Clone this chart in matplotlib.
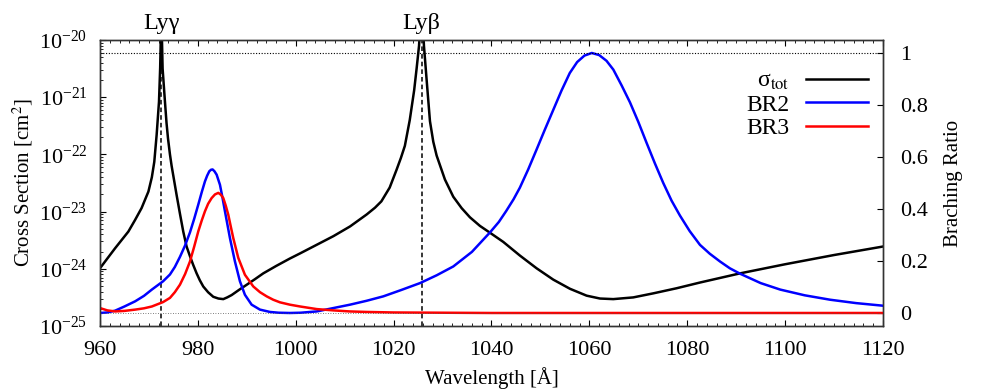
import numpy as np
import matplotlib
matplotlib.use('Agg')
import matplotlib.pyplot as plt
from matplotlib.lines import Line2D
from matplotlib.ticker import MultipleLocator, FormatStrFormatter

plt.rcParams['font.family'] = ['Liberation Serif', 'DejaVu Serif']
plt.rcParams['mathtext.fontset'] = 'stix'

# total cross section (left axis, cm^2)
wl_tot = [960.0, 961.5, 963.1, 965.8, 967.15, 968.5, 969.9, 970.6, 971.1, 971.58,
          972.06, 972.3, 972.54, 972.8, 973.28, 973.6, 973.9, 974.3, 974.64, 975.0,
          975.66, 976.35, 977.02, 977.7, 978.39, 979.05, 979.75, 980.4, 981.11, 982.1,
          983.15, 984.2, 985.2, 986.0, 986.9, 988.4, 989.97, 991.7, 993.37, 996.0,
          998.8, 1000.9, 1004.3, 1007.7, 1011.1, 1014.5, 1016.2, 1017.5, 1019.2, 1020.6,
          1021.5, 1022.3, 1023.3, 1024.2, 1024.7, 1025.2, 1025.72, 1026.2, 1026.75, 1027.43,
          1028.11, 1028.79, 1030.49, 1032.19, 1033.9, 1035.6, 1037.64, 1039.69, 1042.41, 1045.82,
          1049.22, 1052.63, 1056.04, 1059.44, 1062.17, 1064.89, 1068.97, 1073.06, 1077.84, 1082.6,
          1090.8, 1100.0, 1110.0, 1120.0]
sigma_tot = [1.02e-24, 1.51e-24, 2.29e-24, 4.47e-24, 7.08e-24, 1.15e-23, 2.24e-23, 3.98e-23, 7.41e-23, 2.19e-22,
             8.32e-22, 3.24e-21, 3.16e-20, 3.16e-21, 8.32e-22, 3.55e-22, 1.91e-22, 1.00e-22, 6.31e-23, 4.17e-23,
             1.95e-23, 9.12e-24, 4.47e-24, 2.45e-24, 1.66e-24, 1.17e-24, 8.32e-25, 6.31e-25, 4.90e-25, 3.89e-25,
             3.24e-25, 3.02e-25, 2.95e-25, 3.16e-25, 3.47e-25, 4.27e-25, 5.25e-25, 6.61e-25, 8.32e-25, 1.12e-24,
             1.51e-24, 1.86e-24, 2.63e-24, 3.72e-24, 5.50e-24, 8.91e-24, 1.17e-23, 1.51e-23, 2.63e-23, 5.37e-23,
             8.71e-23, 1.41e-22, 3.98e-22, 1.32e-21, 3.16e-21, 7.94e-21, 5.00e-20, 7.94e-21, 2.00e-21, 3.80e-22,
             1.66e-22, 9.55e-23, 3.63e-23, 1.82e-23, 1.15e-23, 7.94e-24, 5.62e-24, 4.27e-24, 2.95e-24, 1.70e-24,
             1.02e-24, 6.46e-25, 4.47e-25, 3.39e-25, 3.02e-25, 2.95e-25, 3.16e-25, 3.72e-25, 4.57e-25, 5.75e-25,
             8.32e-25, 1.20e-24, 1.74e-24, 2.45e-24]

# branching ratio BR2 (right axis)
wl_br2 = [960.0, 961.5, 963.1, 965.0, 967.2, 969.0, 970.6, 972.9, 974.3, 975.3,
          976.35, 977.4, 978.39, 979.25, 980.09, 980.8, 981.45, 981.9, 982.34, 982.7,
          983.02, 983.4, 983.84, 984.52, 985.0, 985.54, 986.56, 987.58, 988.6, 989.62,
          990.99, 992.69, 994.74, 996.5, 998.8, 1001.0, 1004.3, 1007.7, 1011.1, 1014.5,
          1017.9, 1021.5, 1025.4, 1028.8, 1032.2, 1036.0, 1039.7, 1041.5, 1043.0, 1044.5,
          1045.8, 1047.5, 1049.2, 1050.9, 1052.6, 1054.3, 1056.0, 1057.5, 1059.0, 1060.5,
          1062.0, 1063.5, 1064.9, 1066.6, 1068.3, 1070.0, 1071.7, 1073.4, 1075.1, 1076.8,
          1078.5, 1080.5, 1082.6, 1084.6, 1086.7, 1088.7, 1090.8, 1095.0, 1099.0, 1104.0,
          1109.2, 1114.5, 1120.0]
br2 = [0.000, 0.002, 0.009, 0.025, 0.045, 0.066, 0.090, 0.122, 0.148, 0.177,
       0.216, 0.260, 0.310, 0.362, 0.417, 0.465, 0.506, 0.528, 0.545, 0.551,
       0.552, 0.545, 0.532, 0.493, 0.447, 0.391, 0.288, 0.198, 0.122, 0.070,
       0.032, 0.013, 0.004, 0.001, 0.000, 0.001, 0.006, 0.019, 0.032, 0.047,
       0.064, 0.088, 0.115, 0.145, 0.179, 0.235, 0.310, 0.350, 0.392, 0.437,
       0.482, 0.552, 0.628, 0.705, 0.780, 0.855, 0.923, 0.965, 0.990, 1.000,
       0.992, 0.970, 0.936, 0.875, 0.810, 0.735, 0.654, 0.575, 0.500, 0.432,
       0.375, 0.315, 0.262, 0.228, 0.198, 0.172, 0.151, 0.115, 0.090, 0.068,
       0.051, 0.038, 0.028]

# branching ratio BR3 (right axis)
wl_br3 = [960.0, 961.5, 963.1, 965.0, 967.2, 969.0, 970.6, 972.9, 974.3, 975.3,
          976.35, 977.4, 978.39, 979.25, 980.09, 980.8, 981.45, 982.1, 982.82, 983.5,
          984.18, 984.7, 985.2, 985.7, 986.22, 986.7, 987.24, 988.26, 989.62, 991.33,
          992.7, 994.06, 995.4, 996.78, 998.8, 1000.9, 1004.3, 1007.7, 1011.0, 1014.5,
          1020.0, 1030.0, 1040.0, 1120.0]
br3 = [0.019, 0.010, 0.006, 0.008, 0.013, 0.018, 0.025, 0.042, 0.058, 0.080,
       0.109, 0.150, 0.198, 0.255, 0.314, 0.356, 0.391, 0.420, 0.442, 0.456,
       0.462, 0.455, 0.442, 0.413, 0.378, 0.335, 0.288, 0.212, 0.147, 0.102,
       0.080, 0.064, 0.051, 0.041, 0.032, 0.025, 0.015, 0.010, 0.006, 0.004,
       0.002, 0.001, 0.000, 0.000]

lines = [972.54, 1025.72]
line_names = ['Ly\u03b3', 'Ly\u03b2']

fig = plt.figure(figsize=(9.81, 3.92), dpi=100)
ax = fig.add_axes([0.1019, 0.1684, 0.7982, 0.7296])
ax2 = ax.twinx()

ax.plot(wl_tot, sigma_tot, color='black', lw=1.8)
ax.set_yscale('log')
ax.set_ylim(1e-25, 1e-20)
ax.set_xlim(960, 1120)

for x0, name in zip(lines, line_names):
    ax.axvline(x0, color='black', ls=(0, (3, 2)), lw=1.1)
    ax.text(x0, 1.038, name, transform=ax.get_xaxis_transform(),
            ha='center', va='baseline', fontsize=17.5)

ax2.plot(wl_br2, br2, color='#0000ff', lw=1.8)
ax2.plot(wl_br3, br3, color='#ff0000', lw=1.8)
ax2.axhline(1.0, color='black', ls=(0, (1, 1.5)), lw=0.8)
ax2.axhline(0.0, color='#555555', ls=(0, (1, 2)), lw=0.6)
ax2.set_ylim(-0.05, 1.05)
ax2.yaxis.set_major_locator(MultipleLocator(0.2))
ax2.yaxis.set_major_formatter(FormatStrFormatter('%g'))

ax.xaxis.set_major_locator(MultipleLocator(20))
ax.xaxis.set_minor_locator(MultipleLocator(2))
ax.tick_params(axis='x', which='both', direction='in', top=True, labelsize=16, pad=11)
ax.tick_params(axis='y', which='both', direction='in', right=False, labelsize=16, pad=9)
ax.tick_params(which='major', length=4.5, width=0.8)
ax.tick_params(which='minor', length=2.2, width=0.6)
ax2.tick_params(axis='y', direction='in', length=4.5, width=0.8, labelsize=16, pad=12)

for a in (ax, ax2):
    for s in a.spines.values():
        s.set_color('#333333')
        s.set_linewidth(1.0)

ax.set_xlabel('Wavelength [\u00c5]', fontsize=15, labelpad=5)
ax.set_ylabel('Cross Section [cm$^2$]', fontsize=15, labelpad=3)
ax2.set_ylabel('Braching Ratio', fontsize=15, labelpad=12)

handles = [Line2D([], [], color='black', lw=1.8),
           Line2D([], [], color='#0000ff', lw=1.8),
           Line2D([], [], color='#ff0000', lw=1.8)]
labels = ['\u03c3$_{\\rm tot}$', 'BR2', 'BR3']
ax2.legend(handles, labels, loc='upper right', bbox_to_anchor=(0.981, 0.894),
           frameon=False, markerfirst=False, fontsize=17, handlelength=2.63,
           handletextpad=0.68, labelspacing=0.08, borderpad=0, borderaxespad=0)

fig.savefig('out.png', dpi=100)
